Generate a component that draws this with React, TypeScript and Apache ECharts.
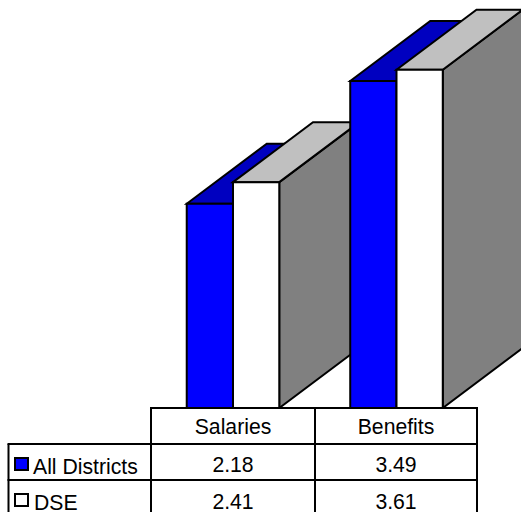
import React, { useEffect, useRef } from "react";
import * as echarts from "echarts";

const categories = ["Salaries", "Benefits"];
const allDistricts = [2.18, 3.49];
const dse = [2.41, 3.61];
const seriesNames = ["All Districts", "DSE"];

const FONT = "'Liberation Sans', Arial, sans-serif";
const DEPTH_X = 80;
const DEPTH_Y = 60;
const BAR_RATIO = 0.283;

const faces = [
  { front: "#0000ff", top: "#0000c0", side: "#000080" },
  { front: "#ffffff", top: "#c0c0c0", side: "#808080" },
];

function render3d(seriesIdx: number) {
  return (params: any, api: any) => {
    const cat = api.value(0);
    const top = api.coord([cat, api.value(1)]);
    const base = api.coord([cat, 0]);
    const w = api.size([1, 0])[0] * BAR_RATIO;
    const x0 = seriesIdx === 0 ? top[0] - w : top[0];
    const x1 = x0 + w;
    const yt = top[1];
    const yb = base[1];
    const z2 = cat * 10 + seriesIdx;
    const stroke = { stroke: "#000", lineWidth: 2, lineJoin: "miter" };
    const c = faces[seriesIdx];
    return {
      type: "group",
      children: [
        {
          type: "polygon",
          z2,
          shape: { points: [[x1, yb], [x1, yt], [x1 + DEPTH_X, yt - DEPTH_Y], [x1 + DEPTH_X, yb - DEPTH_Y]] },
          style: { fill: c.side, ...stroke },
        },
        {
          type: "polygon",
          z2,
          shape: { points: [[x0, yt], [x0 + DEPTH_X, yt - DEPTH_Y], [x1 + DEPTH_X, yt - DEPTH_Y], [x1, yt]] },
          style: { fill: c.top, ...stroke },
        },
        {
          type: "rect",
          z2,
          shape: { x: x0, y: yt, width: w, height: yb - yt },
          style: { fill: c.front, ...stroke },
        },
      ],
    };
  };
}

function tableGraphics() {
  const L = 8.5, C0 = 151, C1 = 315, C2 = 477;
  const Y0 = 408, Y1 = 444, Y2 = 480, YB = 513;
  const line = (x1: number, y1: number, x2: number, y2: number) => ({
    type: "line",
    z: 20,
    shape: { x1, y1, x2, y2 },
    style: { stroke: "#000", lineWidth: 2 },
  });
  const text = (s: string, x: number, y: number, align: string) => ({
    type: "text",
    z: 21,
    x,
    y,
    style: {
      text: s,
      x: 0,
      y: 0,
      fill: "#000",
      font: `21.2px ${FONT}`,
      textAlign: align,
      textVerticalAlign: "middle",
    },
  });
  const cols = [(C0 + C1) / 2, (C1 + C2) / 2];
  const rows = [464, 501.5];
  const els: any[] = [
    { type: "rect", z: 19, shape: { x: L, y: Y1, width: C0 - L, height: YB - Y1 }, style: { fill: "#fff" } },
    { type: "rect", z: 19, shape: { x: C0, y: Y0, width: C2 - C0, height: YB - Y0 }, style: { fill: "#fff" } },
    line(C0 - 1, Y0, C2 + 1, Y0),
    line(L - 1, Y1, C2 + 1, Y1),
    line(L - 1, Y2, C2 + 1, Y2),
    line(L, Y1, L, YB),
    line(C0, Y0, C0, YB),
    line(C1, Y0, C1, YB),
    line(C2, Y0, C2, YB),
  ];
  categories.forEach((c, i) => els.push(text(c, cols[i], 426, "center")));
  [allDistricts, dse].forEach((vals, r) => {
    vals.forEach((v, i) => els.push(text(v.toFixed(2), cols[i], rows[r], "center")));
    els.push({
      type: "rect",
      z: 21,
      shape: { x: 15, y: r === 0 ? 458 : 494, width: 13, height: 12 },
      style: { fill: faces[r].front, stroke: "#000", lineWidth: 2 },
    });
    els.push(text(seriesNames[r], r === 0 ? 33 : 34, r === 0 ? 466 : 502, "left"));
  });
  return els;
}

export default function App() {
  const ref = useRef<HTMLDivElement>(null);
  useEffect(() => {
    const chart = echarts.init(ref.current!, null, { renderer: "svg" });
    chart.setOption({
      animation: false,
      backgroundColor: "#fff",
      grid: { left: 151.25, width: 327, top: 0, height: 408 },
      xAxis: {
        type: "category",
        data: categories,
        axisLine: { show: false },
        axisTick: { show: false },
        axisLabel: { show: false },
      },
      yAxis: { type: "value", min: 0, max: 4.354, show: false, splitLine: { show: false } },
      series: [allDistricts, dse].map((vals, s) => ({
        type: "custom",
        name: seriesNames[s],
        clip: false,
        coordinateSystem: "cartesian2d",
        renderItem: render3d(s),
        encode: { x: 0, y: 1 },
        data: vals.map((v, i) => [i, v]),
      })),
      graphic: { elements: tableGraphics() },
    });
    return () => chart.dispose();
  }, []);
  return <div ref={ref} style={{ position: "fixed", left: 0, top: 0, width: 521, height: 512 }} />;
}
